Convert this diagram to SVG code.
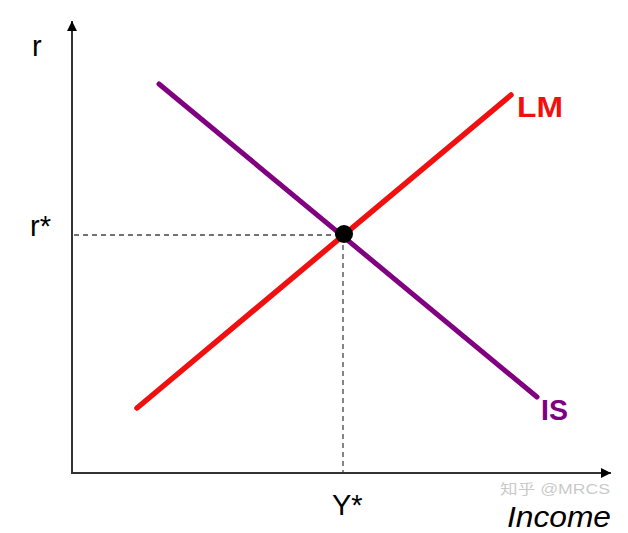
<svg xmlns="http://www.w3.org/2000/svg" width="628" height="533" viewBox="0 0 628 533">
<style>
.axis{stroke:#333;stroke-width:2;fill:none}
.dash{stroke:#444;stroke-width:1.3;stroke-dasharray:5,4;fill:none}
.lbl{font-family:"Liberation Sans",Arial,sans-serif;font-size:29px;fill:#000}
.curve{font-family:"Liberation Sans",Arial,sans-serif;font-size:30px;font-weight:bold}
</style>
<defs>
<marker id="ah" markerWidth="12" markerHeight="12" refX="10" refY="5" orient="auto" markerUnits="userSpaceOnUse">
<path d="M0,0 L10,5 L0,10 Z" fill="#000"/>
</marker>
</defs>
<rect width="628" height="533" fill="#fff"/>
<g id="connectors">
<line class="axis" x1="72" y1="473" x2="72" y2="21" marker-end="url(#ah)"/>
<line class="axis" x1="71" y1="473" x2="611" y2="473" marker-end="url(#ah)"/>
<line class="dash" x1="74" y1="235" x2="344" y2="235"/>
<line class="dash" x1="343" y1="236" x2="343" y2="472"/>
</g>
<g id="LM">
<line x1="137" y1="408" x2="511" y2="95" stroke="#f01010" stroke-width="5.5" stroke-linecap="round"/>
<text class="curve" x="517" y="117" fill="#f01010" textLength="46" lengthAdjust="spacingAndGlyphs">LM</text>
</g>
<g id="IS">
<line x1="159" y1="84" x2="537" y2="397" stroke="#800080" stroke-width="5" stroke-linecap="round"/>
<text class="curve" x="541" y="420" fill="#800080" textLength="27" lengthAdjust="spacingAndGlyphs">IS</text>
</g>
<g id="equilibrium">
<circle cx="344" cy="234" r="9" fill="#000"/>
</g>
<g id="labels">
<text class="lbl" x="32" y="56">r</text>
<text class="lbl" x="30" y="236">r*</text>
<text class="lbl" x="332" y="515">Y*</text>
<text class="lbl" x="507" y="527" font-style="italic" textLength="104" lengthAdjust="spacingAndGlyphs">Income</text>
<text x="500" y="494" font-family="'Liberation Sans','Noto Sans CJK SC',sans-serif" font-size="14" fill="#bbb" fill-opacity="0.8" textLength="110" lengthAdjust="spacingAndGlyphs">知乎 @MRCS</text>
</g>
</svg>
